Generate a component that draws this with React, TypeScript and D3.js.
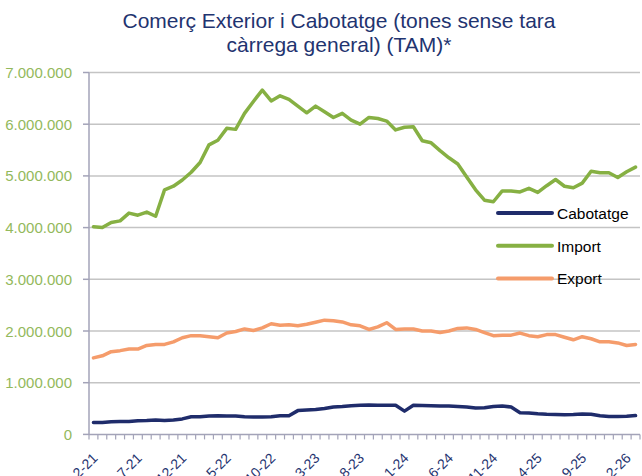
import React from "react";
import * as d3 from "d3";

const categories = [
  "2-21","3-21","4-21","5-21","6-21","7-21","8-21","9-21","10-21","11-21","12-21",
  "1-22","2-22","3-22","4-22","5-22","6-22","7-22","8-22","9-22","10-22","11-22","12-22",
  "1-23","2-23","3-23","4-23","5-23","6-23","7-23","8-23","9-23","10-23","11-23","12-23",
  "1-24","2-24","3-24","4-24","5-24","6-24","7-24","8-24","9-24","10-24","11-24","12-24",
  "1-25","2-25","3-25","4-25","5-25","6-25","7-25","8-25","9-25","10-25","11-25","12-25",
  "1-26","2-26","3-26",
];

const cabotatge = [
  230000, 230000, 245000, 250000, 250000, 265000, 270000, 280000, 270000, 280000,
  300000, 340000, 340000, 355000, 360000, 355000, 355000, 340000, 335000, 335000,
  340000, 360000, 360000, 460000, 470000, 480000, 500000, 530000, 540000, 555000,
  562000, 570000, 565000, 565000, 565000, 450000, 565000, 560000, 555000, 550000,
  550000, 540000, 530000, 510000, 515000, 540000, 550000, 530000, 420000, 415000,
  400000, 390000, 385000, 380000, 385000, 395000, 390000, 360000, 345000, 345000,
  350000, 365000,
];

const importVals = [
  4017000, 4000000, 4100000, 4130000, 4280000, 4240000, 4300000, 4220000, 4730000, 4800000,
  4920000, 5070000, 5260000, 5600000, 5690000, 5920000, 5900000, 6210000, 6440000, 6660000,
  6450000, 6550000, 6480000, 6350000, 6220000, 6350000, 6240000, 6130000, 6210000, 6080000,
  6000000, 6130000, 6110000, 6060000, 5890000, 5940000, 5950000, 5680000, 5640000, 5490000,
  5350000, 5230000, 4980000, 4730000, 4530000, 4500000, 4710000, 4710000, 4690000, 4760000,
  4680000, 4810000, 4930000, 4800000, 4770000, 4860000, 5090000, 5060000, 5060000, 4970000,
  5080000, 5170000,
];

const exportVals = [
  1480000, 1520000, 1600000, 1620000, 1650000, 1650000, 1720000, 1740000, 1740000, 1790000,
  1870000, 1910000, 1910000, 1890000, 1870000, 1960000, 1990000, 2040000, 2010000, 2060000,
  2140000, 2110000, 2120000, 2100000, 2130000, 2170000, 2210000, 2200000, 2175000, 2120000,
  2100000, 2030000, 2080000, 2160000, 2030000, 2040000, 2040000, 2000000, 2000000, 1970000,
  2000000, 2050000, 2060000, 2030000, 1970000, 1910000, 1920000, 1920000, 1960000, 1910000,
  1890000, 1930000, 1930000, 1880000, 1830000, 1890000, 1850000, 1790000, 1790000, 1770000,
  1720000, 1740000,
];

const yTicks = [0, 1000000, 2000000, 3000000, 4000000, 5000000, 6000000, 7000000];

const seriesNames = ["Cabotatge", "Import", "Export"];
const seriesColors = ["#1F2C6B", "#86B043", "#F59C6B"];

const W = 642;
const H = 476;
const left = 89;
const right = 640;
const top = 72.5;
const bottom = 434.4;

const locale = d3.formatLocale({ decimal: ",", thousands: ".", grouping: [3], currency: ["", "€"] });
const fmt = locale.format(",d");

export default function App() {
  const x = d3.scaleBand<string>().domain(categories).range([left, right]).padding(0);
  const y = d3.scaleLinear().domain([0, 7000000]).range([bottom, top]);
  const cx = (i: number) => (x(categories[i]) as number) + x.bandwidth() / 2;
  const line = d3
    .line<number>()
    .x((_, i) => cx(i))
    .y((d) => y(d));
  const series = [cabotatge, importVals, exportVals];
  const font = "'Liberation Sans', Arial, sans-serif";
  const axisColor = "#A3A3B8";
  const legendY = [213, 245.7, 278.4];

  return (
    <div>
      <style>{`body{margin:0}`}</style>
      <svg width={W} height={H} style={{ display: "block", fontFamily: font }}>
        <rect x={0} y={0} width={W} height={H} fill="#fff" />
        <text x={339} y={28} textAnchor="middle" fontSize={21} fill="#1F3470">
          Comerç Exterior i Cabotatge (tones sense tara
        </text>
        <text x={339} y={52} textAnchor="middle" fontSize={21} fill="#1F3470">
          càrrega general) (TAM)*
        </text>
        {yTicks.map((t) => (
          <g key={t}>
            {t > 0 && (
              <line x1={left} x2={right} y1={y(t)} y2={y(t)} stroke="#C4C4C4" strokeWidth={1.5} />
            )}
            <line x1={left - 6} x2={left} y1={y(t)} y2={y(t)} stroke={axisColor} strokeWidth={1.5} />
            <text x={72} y={y(t) + 5.5} textAnchor="end" fontSize={15} fill="#93B95C">
              {fmt(t)}
            </text>
          </g>
        ))}
        <line x1={left} x2={left} y1={top} y2={bottom} stroke={axisColor} strokeWidth={1.5} />
        <line x1={left} x2={right} y1={bottom} y2={bottom} stroke={axisColor} strokeWidth={1.5} />
        {categories.map((c) => (
          <line
            key={c}
            x1={(x(c) as number) + x.bandwidth()}
            x2={(x(c) as number) + x.bandwidth()}
            y1={bottom}
            y2={bottom + 5}
            stroke={axisColor}
            strokeWidth={1.2}
          />
        ))}
        <line x1={left} x2={left} y1={bottom} y2={bottom + 5} stroke={axisColor} strokeWidth={1.2} />
        {categories.map((c, i) =>
          i % 5 === 0 ? (
            <text
              key={"l" + c}
              transform={`translate(${cx(i) + 5},${459}) rotate(-45)`}
              textAnchor="end"
              fontSize={14}
              fill="#1F3470"
            >
              {c}
            </text>
          ) : null
        )}
        {series.map((s, k) => (
          <path
            key={k}
            d={line(s) as string}
            fill="none"
            stroke={seriesColors[k]}
            strokeWidth={3.5}
            strokeLinejoin="round"
            strokeLinecap="round"
          />
        ))}
        {seriesNames.map((n, k) => (
          <g key={n}>
            <line
              x1={498}
              x2={552}
              y1={legendY[k]}
              y2={legendY[k]}
              stroke={seriesColors[k]}
              strokeWidth={4}
              strokeLinecap="round"
            />
            <text x={557} y={legendY[k] + 6} fontSize={15.5} fill="#000">
              {n}
            </text>
          </g>
        ))}
      </svg>
    </div>
  );
}
